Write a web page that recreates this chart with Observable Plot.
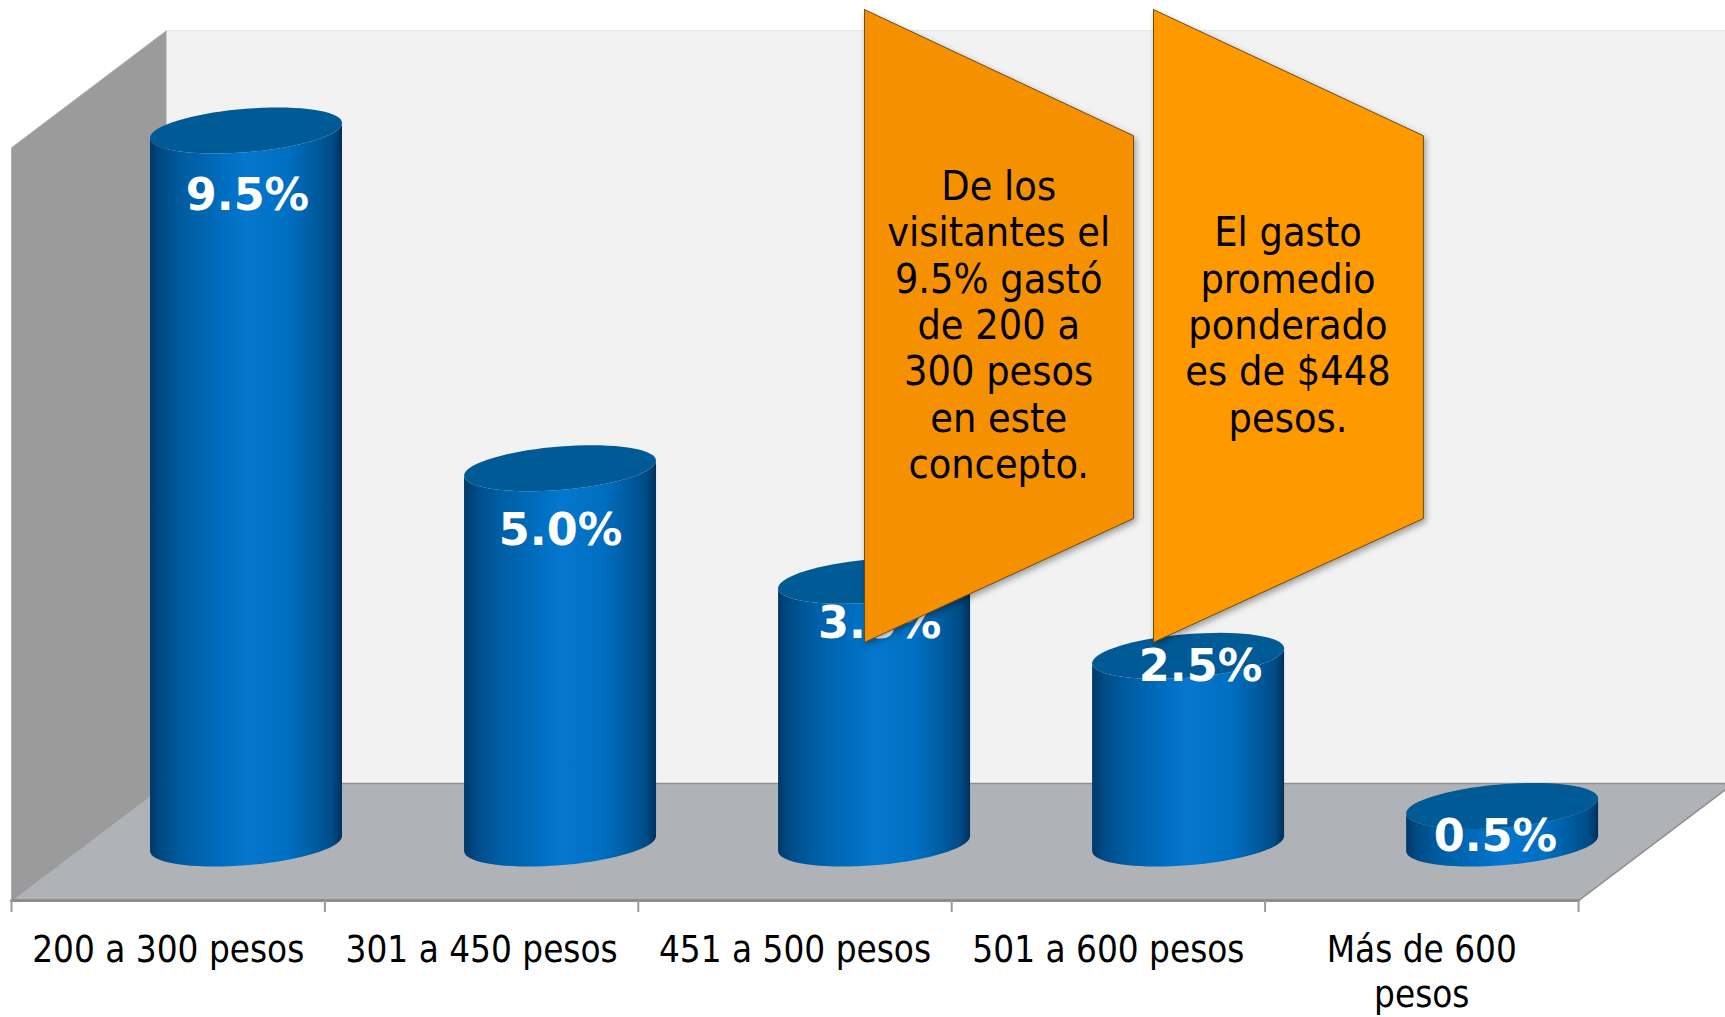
<!DOCTYPE html>
<html><head><meta charset="utf-8">
<script src="https://cdn.jsdelivr.net/npm/d3@7"></script>
<script src="https://cdn.jsdelivr.net/npm/@observablehq/plot@0.6"></script>
<style>html,body{margin:0;padding:0;background:#fff;overflow:hidden}svg{display:block;max-width:none!important}</style>
</head><body><div id="chart"></div>
<script>
const categories = ["200 a 300 pesos","301 a 450 pesos","451 a 500 pesos","501 a 600 pesos","Más de 600\npesos"];
const values = [9.5,5.0,3.5,2.5,0.5];
const valueLabels = ["9.5%","5.0%","3.5%","2.5%","0.5%"];
const labelX = [0.753,1.752,2.770,3.794,4.735];
const labelY = [8.63,4.17,2.93,2.35,0.09];
const note1 = "De los\nvisitantes el\n9.5% gastó\nde 200 a\n300 pesos\nen este\nconcepto.";
const note2 = "El gasto\npromedio\nponderado\nes de $448\npesos.";

// chart-space frame, in scale units
const depthX = 0.4946, yFront = -0.76, yBack = 0.8, wallTop = 10.83, wallFrontTop = 9.27;
const radiusX = 0.3063, radiusY = 0.29, skew = 0.1;
const fontReg = '"DejaVu Sans Condensed","DejaVu Sans",sans-serif';

const poly = (pts, o) => Plot.line(pts, {x: d => d[0], y: d => d[1], curve: "linear", ...o});

// cylinder outline in scale units, from the value
const angles = d3.range(0, 73).map(i => i * Math.PI / 36);
const ring = (cx, base, t) => [cx + radiusX * Math.cos(t), base + skew * Math.cos(t) + radiusY * Math.sin(t)];
const bodies = [], tops = [];
values.forEach((v, i) => {
  const cx = i * 1.002 + 0.5 + depthX / 2 + 0.001;
  const under = angles.filter(t => t >= Math.PI).map(t => ring(cx, 0, t));
  const upper = angles.filter(t => t >= Math.PI).map(t => ring(cx, v, t)).reverse();
  [...under, ...upper].forEach(p => bodies.push({x: p[0], y: p[1], i}));
  angles.forEach(t => { const p = ring(cx, v, t); tops.push({x: p[0], y: p[1], i}); });
});

const labels = values.map((v, i) => ({x: labelX[i], y: labelY[i], t: valueLabels[i]}));
const callout = (x0, x1) => [[x0,11.11],[x1,9.43],[x1,4.33],[x0,2.68],[x0,11.11]];

const plot = Plot.plot({
  width: 1725, height: 1017,
  margin: 0,
  x: {domain: [0,5], range: [11,1578], axis: null},
  y: {domain: [0,9.5], range: [843,130], axis: null},
  style: {background: "#fff"},
  marks: [
    poly([[depthX,yBack],[depthX,wallTop],[5.6,wallTop],[5.6,yBack]], {fill:"#F2F2F2", stroke:"none"}),
    poly([[depthX,wallTop],[5.6,wallTop]], {stroke:"#E6E6E6", strokeWidth:1}),
    poly([[0,yFront],[0,wallFrontTop],[depthX,wallTop],[depthX,yBack]], {fill:"#9B9B9B", stroke:"none"}),
    poly([[0,yFront],[0,wallFrontTop],[depthX,wallTop]], {stroke:"#ADADAD", strokeWidth:1}),
    poly([[0,yFront],[depthX,yBack],[5+depthX,yBack],[5,yFront]], {fill:"#AFB2B6", stroke:"none"}),
    poly([[0,yFront],[depthX,yBack]], {stroke:"#959595", strokeWidth:1}),
    poly([[depthX,yBack],[5+depthX,yBack],[5,yFront]], {stroke:"#909090", strokeWidth:1.6}),
    poly([[0,yFront],[5,yFront]], {stroke:"#8C8C8C", strokeWidth:3}),
    Plot.ruleX(d3.range(6), {x: d => d, y1: yFront, y2: yFront - 0.16, stroke:"#999", strokeWidth:2}),
    Plot.line(bodies, {x:"x", y:"y", z:"i", fill:"url(#cylSide)", stroke:"none", curve:"linear"}),
    Plot.line(tops, {x:"x", y:"y", z:"i", fill:"#005A96", stroke:"none", curve:"linear"}),
    Plot.text(labels, {x:"x", y:"y", text:"t", fill:"#fff", fontWeight:"bold", fontSize:44.5,
      fontFamily:'"DejaVu Sans",sans-serif', lineAnchor:"middle", textAnchor:"middle", stroke:"none"}),
    Plot.text(categories, {x:(d,i)=>i+0.5, y:-1.15, text:d=>d, fill:"#000", fontSize:36.5, lineHeight:1.23,
      fontFamily:fontReg, lineAnchor:"top", textAnchor:"middle"}),
    poly(callout(2.722,3.58), {fill:"#F59100", stroke:"#6e4a10", strokeWidth:1, imageFilter:"drop-shadow(2px 3px 3px rgba(0,0,0,.35))"}),
    poly(callout(3.644,4.505), {fill:"#FF9900", stroke:"#6e4a10", strokeWidth:1, imageFilter:"drop-shadow(2px 3px 3px rgba(0,0,0,.35))"}),
    Plot.text([note1], {x:3.15, y:6.92, text:d=>d, fill:"#000", fontSize:41, lineHeight:1.13, fontFamily:fontReg, lineAnchor:"middle", textAnchor:"middle"}),
    Plot.text([note2], {x:4.073, y:6.92, text:d=>d, fill:"#000", fontSize:41, lineHeight:1.13, fontFamily:fontReg, lineAnchor:"middle", textAnchor:"middle"})
  ]
});

const defs = d3.select(plot).insert("defs", ":first-child");
const stops = (id, list) => {
  const g = defs.append("linearGradient").attr("id", id).attr("x1",0).attr("x2",1).attr("y1",0).attr("y2",0);
  list.forEach(([o,c]) => g.append("stop").attr("offset",o).attr("stop-color",c));
};
stops("cylSide", [[0,"#00386A"],[0.06,"#004B85"],[0.18,"#005DA3"],[0.38,"#006DBF"],[0.5,"#0577CE"],[0.72,"#006FC2"],[0.86,"#005B9F"],[0.95,"#004B85"],[1,"#00305C"]]);
document.getElementById("chart").appendChild(plot);
</script></body></html>
